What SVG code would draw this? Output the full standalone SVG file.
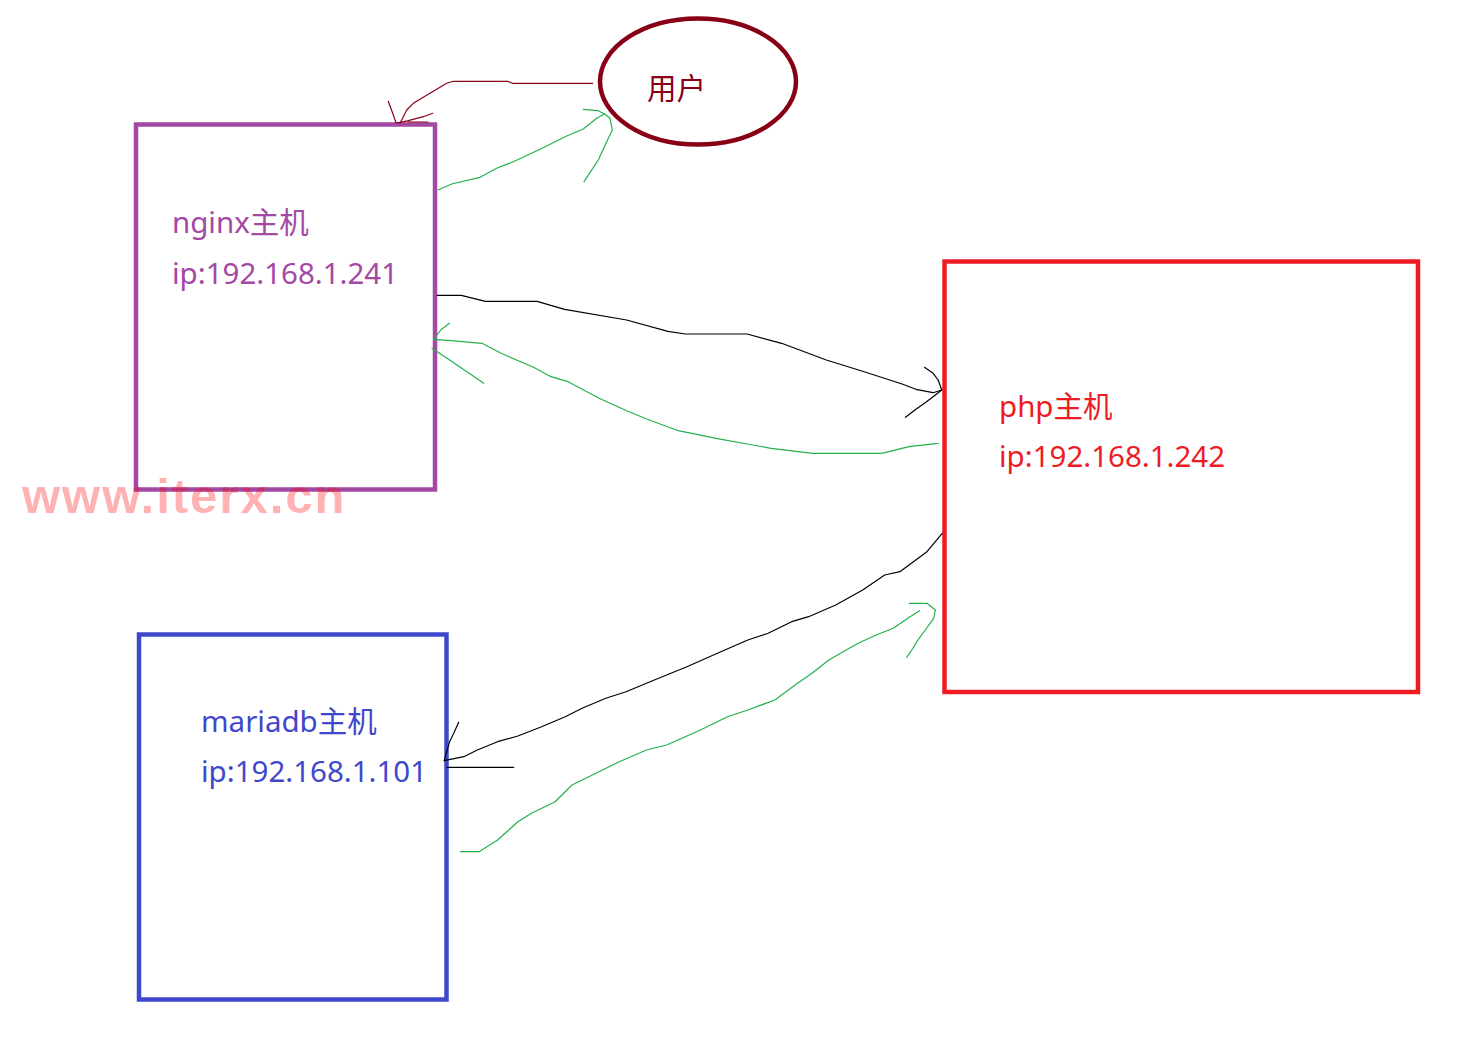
<svg xmlns="http://www.w3.org/2000/svg" width="1464" height="1064" viewBox="0 0 1464 1064">
<style>
.lbl{font-family:"Noto Sans","Noto Sans CJK SC",sans-serif;font-size:29.5px}
.box{fill:none;stroke-width:4.5}
.ln{fill:none;stroke-width:1.2;stroke-linejoin:round;stroke-linecap:round}
.g{stroke:#22B14C}
.k{stroke:#000000}
.r{stroke:#880015}
.wm{font-family:"Liberation Sans",Arial,sans-serif;font-weight:bold;font-size:49px;letter-spacing:2px;fill:#ff0000;fill-opacity:0.3}
</style>
<rect width="1464" height="1064" fill="#ffffff"/>
<g id="user">
<ellipse cx="698" cy="81.5" rx="98" ry="63" fill="none" stroke="#880015" stroke-width="4.5"/>
<text class="lbl" x="647" y="99" fill="#880015">用户</text>
</g>
<g id="nginx">
<rect class="box" x="136" y="124.5" width="299" height="365" stroke="#A349A4"/>
<text class="lbl" x="172" y="233" fill="#A349A4">nginx主机</text>
<text class="lbl" x="172" y="284" fill="#A349A4">ip:192.168.1.241</text>
</g>
<g id="php">
<rect class="box" x="944.5" y="261.5" width="473.5" height="430.5" stroke="#ED1C24"/>
<text class="lbl" x="999" y="417" fill="#ED1C24">php主机</text>
<text class="lbl" x="999" y="467" fill="#ED1C24">ip:192.168.1.242</text>
</g>
<g id="mariadb">
<rect class="box" x="139" y="634.5" width="307.5" height="365" stroke="#3F48CC"/>
<text class="lbl" x="201" y="732" fill="#3F48CC">mariadb主机</text>
<text class="lbl" x="201" y="782" fill="#3F48CC">ip:192.168.1.101</text>
</g>
<g id="connectors">
<path class="ln r" d="M592.7,83.3 L512.3,83.3 L507.7,81.3 L453.3,81.3 L446.7,83.3 L430,93.3 L423.3,97.3 L413.3,103.3 L406.7,110 L401.7,120 L400,122.7"/>
<path class="ln r" d="M388.3,101.3 L392.7,113.3 L396,122.7 L400,122.7 L408.3,120.7 L423.3,116.7 L432.7,113.3 M408,122 L428,122"/>
<path class="ln g" d="M438,190 L451.7,184 L480,177.3 L496.7,168.3 L513.3,161.7 L540,149.3 L566.7,136 L583.3,129 L596.7,118.3 L604,114.3"/>
<path class="ln g" d="M583.3,109.3 L598.3,110.7 L605,114.3 L610,118.3 L612.3,130 L606.7,141.7 L598.3,160 L584,181.7"/>
<path class="ln k" d="M437.2,295.3 L461.3,295.3 L485.4,301.3 L537.1,301.3 L564.6,309.3 L626.6,320 L667.9,331.3 L685.2,334 L747.1,334 L781.6,343.3 L826.3,360 L864.2,371.7 L902.1,384 L915.9,389.3 L933.1,392.7 L941.7,390"/>
<path class="ln k" d="M924.5,367.3 L933.1,373.3 L938.2,380 L941.7,390 L933.1,396.7 L924.5,403.3 L915.9,409.3 L905.5,417.3"/>
<path class="ln g" d="M938.2,443.3 L909,446.7 L884.9,452.7 L880,453.3 L812.6,453.3 L771.2,448.3 L747.1,444 L716.1,438.3 L678.3,430.7 L647.3,419.3 L626.6,410.7 L599.1,398.3 L568.1,381.7 L550.9,376.7 L533.6,367.3 L502.6,354 L482,343.3 L451,340.7 L433.8,339.3"/>
<path class="ln g" d="M449.3,323.3 L440.7,330 L433.8,339.3 M432,348.3 L437.2,351.7 L454.4,363.3 L471.7,375 L483.7,383.3"/>
<path class="ln k" d="M942.2,533.3 L927,551.7 L899.9,571.7 L884.7,575 L862.7,590 L835.7,605 L808.6,616.7 L791.7,621.7 L768.1,633.3 L747.8,640 L717.4,653.3 L686.9,666.7 L666.6,675 L646.4,683.3 L626.1,691.7 L605.8,698.3 L582.1,708.3 L565.2,716.7 L541.6,726.7 L517.9,736 L497.6,741.7 L477.3,750 L463.8,756.7 L444.2,760.7"/>
<path class="ln k" d="M444.2,760.7 L449.6,741.7 L453.7,733.3 L458.7,722.3 M446.9,767.3 L513.8,767.3"/>
<path class="ln g" d="M460.4,851.7 L479,851.7 L497.6,840 L517.9,821.7 L531.4,813.3 L555.1,801.7 L572,785 L592.3,775 L619.3,761.7 L646.4,750 L666.6,745 L700.5,730 L727.5,716.7 L747.8,710 L774.8,700 L795.1,685 L812,673.3 L828.9,660 L849.2,648.3 L859.3,642.7 L876.2,635 L893.2,628.3 L910.1,616.7 L919.5,610.7"/>
<path class="ln g" d="M909.4,603.3 L927,603.3 L935.4,610 L933.7,618.3 L925.3,630 L916.8,641.7 L911.8,650 L906.7,657.3"/>
</g>
<text class="wm" x="22" y="513">www.iterx.cn</text>
</svg>
